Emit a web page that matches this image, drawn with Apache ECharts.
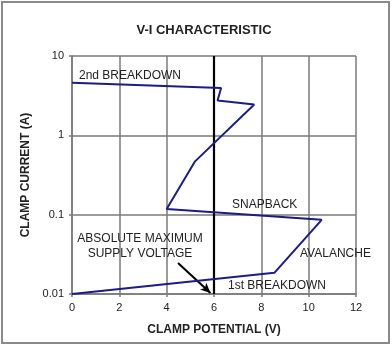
<!DOCTYPE html>
<html><head><meta charset="utf-8">
<script src="https://cdn.jsdelivr.net/npm/echarts@6/dist/echarts.min.js"></script>
<style>html,body{margin:0;padding:0;background:#fff}#c{width:392px;height:347px}</style>
</head><body><div id="c"></div>
<script>
// V-I curve: [clamp potential (V), clamp current (A)]
const curveV = [0, 6.3, 6.15, 7.7, 5.2, 4.0, 10.55, 8.55, 0];
const curveI = [4.6, 3.95, 2.75, 2.45, 0.47, 0.118, 0.086, 0.0185, 0.01];
const supplyV = 6;
const xTicks = [0, 2, 4, 6, 8, 10, 12];
const yTicks = [0.01, 0.1, 1, 10];
const arrowFrom = [4.48, 0.0246];
const arrowTo = [5.85, 0.0103];
const notes = [
  {text: '2nd BREAKDOWN', x: 79, y: 76, align: 'left'},
  {text: 'SNAPBACK', x: 232, y: 205, align: 'left'},
  {text: 'ABSOLUTE MAXIMUM', x: 140, y: 239, align: 'center'},
  {text: 'SUPPLY VOLTAGE', x: 140, y: 254, align: 'center'},
  {text: 'AVALANCHE', x: 300, y: 254, align: 'left'},
  {text: '1st BREAKDOWN', x: 228, y: 286, align: 'left'}
];

const chart = echarts.init(document.getElementById('c'), null, {renderer: 'canvas'});
const F = 'Liberation Sans, Arial, sans-serif';
const gridColor = '#7a7a7a';
chart.setOption({
  animation: false,
  title: {text: 'V-I CHARACTERISTIC', left: 199, top: 19, textAlign: 'center',
    textStyle: {fontFamily: F, fontSize: 13, fontWeight: 'bold', color: '#222'}},
  grid: {left: 72, right: 36, top: 56, bottom: 53},
  xAxis: {type: 'value', min: xTicks[0], max: xTicks[xTicks.length - 1], interval: 2,
    name: 'CLAMP POTENTIAL (V)', nameLocation: 'middle', nameGap: 30,
    nameTextStyle: {fontFamily: F, fontSize: 12, fontWeight: 'bold', color: '#222'},
    axisLine: {show: true, lineStyle: {color: gridColor, width: 1.5}},
    axisTick: {show: true, length: 3, lineStyle: {color: gridColor, width: 1.5}},
    axisLabel: {fontFamily: F, fontSize: 11, color: '#222', margin: 8},
    splitLine: {show: true, lineStyle: {color: gridColor, width: 1.5}}},
  yAxis: {type: 'log', logBase: 10, min: yTicks[0], max: yTicks[yTicks.length - 1],
    name: 'CLAMP CURRENT (A)', nameLocation: 'middle', nameGap: 27,
    nameTextStyle: {fontFamily: F, fontSize: 12, fontWeight: 'bold', color: '#222'},
    axisLine: {show: true, lineStyle: {color: gridColor, width: 1.5}},
    axisTick: {show: true, length: 3, lineStyle: {color: gridColor, width: 1.5}},
    axisLabel: {fontFamily: F, fontSize: 11, color: '#222', margin: 8,
      formatter: v => String(+v.toPrecision(3))},
    splitLine: {show: true, lineStyle: {color: gridColor, width: 1.5}}},
  series: [
    {type: 'line', data: curveV.map((v, i) => [v, curveI[i]]), symbol: 'none',
     lineStyle: {color: '#1c1c84', width: 2}, z: 5},
    {type: 'line', data: [[supplyV, yTicks[0]], [supplyV, yTicks[yTicks.length - 1]]], symbol: 'none',
     lineStyle: {color: '#000', width: 2.2}, z: 4,
     markLine: {silent: true, symbol: ['none', 'arrow'], symbolSize: [7, 10],
       lineStyle: {color: '#000', width: 2, type: 'solid'}, label: {show: false},
       data: [[{coord: arrowFrom}, {coord: arrowTo}]]}}
  ],
  graphic: [
    {type: 'rect', shape: {x: 2, y: 2, width: 387, height: 341},
     style: {fill: 'none', stroke: '#8a8a8a', lineWidth: 2}, z: 100}
  ].concat(notes.map(n => ({type: 'text', x: n.x, y: n.y, z: 50,
     style: {text: n.text, x: 0, y: 0, fill: '#222', font: '12px ' + F,
       textAlign: n.align, textVerticalAlign: 'middle'}})))
});
</script></body></html>
